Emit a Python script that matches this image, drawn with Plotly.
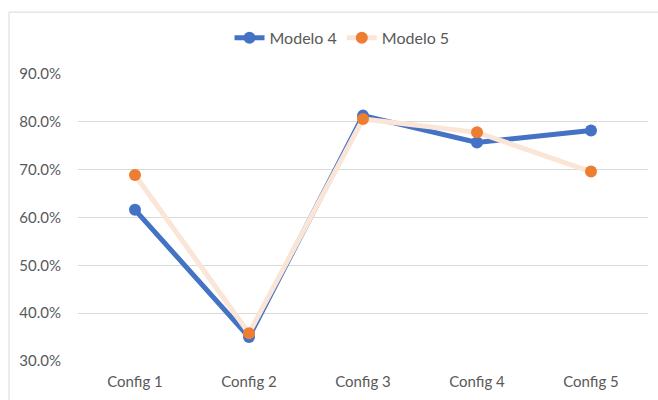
import plotly.graph_objects as go

categories = ["Config 1", "Config 2", "Config 3", "Config 4", "Config 5"]
modelo_4 = [0.616, 0.350, 0.813, 0.757, 0.782]
modelo_5 = [0.689, 0.358, 0.806, 0.778, 0.696]
y_ticks = [0.3, 0.4, 0.5, 0.6, 0.7, 0.8, 0.9]

FONT = "Lato, 'Open Sans', sans-serif"
TEXT = "#595959"
GRID = "#d9d9d9"

fig = go.Figure()
fig.add_trace(go.Scatter(
    x=categories, y=modelo_4, name="Modelo 4", mode="lines+markers",
    line=dict(color="#4472C4", width=5),
    marker=dict(color="#4472C4", size=12),
))
fig.add_trace(go.Scatter(
    x=categories, y=modelo_5, name="Modelo 5", mode="lines+markers",
    line=dict(color="#FBE5D6", width=5),
    marker=dict(color="#ED7D31", size=12),
))

L, R, T, B = 78, 10, 73.5, 36.7
W, H = 658, 400
pw, ph = W - L - R, H - T - B

fig.update_layout(
    width=W, height=H,
    margin=dict(l=L, r=R, t=T, b=B),
    paper_bgcolor="white", plot_bgcolor="white",
    font=dict(family=FONT, size=15, color=TEXT),
    showlegend=True,
    legend=dict(
        orientation="h", x=(342 - L) / pw, xanchor="center",
        y=1 + (T - 37) / ph, yanchor="middle",
        font=dict(size=16, color=TEXT), itemwidth=30,
        bgcolor="rgba(0,0,0,0)",
    ),
    xaxis=dict(
        showgrid=False, showline=False, ticks="", zeroline=False,
        tickfont=dict(size=15, color=TEXT), range=[-0.5, 4.5],
        ticklabelstandoff=10,
    ),
    yaxis=dict(
        range=[0.3, 0.9], tickvals=y_ticks, tickformat=".1%",
        showgrid=True, gridcolor=GRID, gridwidth=1, zeroline=False,
        showline=False, ticks="", ticklabelstandoff=16,
        tickfont=dict(size=15, color=TEXT),
    ),
    shapes=[dict(
        type="rect", xref="paper", yref="paper",
        x0=(9 - L) / pw, x1=1.2, y0=-0.5, y1=1 + (T - 11) / ph,
        line=dict(color=GRID, width=1), fillcolor="rgba(0,0,0,0)", layer="below",
    )],
)

fig.write_html("out.html")
